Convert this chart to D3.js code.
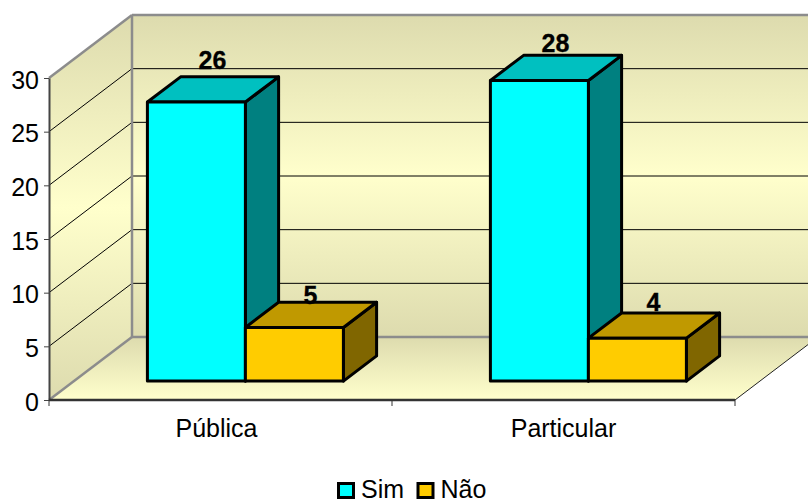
<!DOCTYPE html>
<html>
<head>
<meta charset="utf-8">
<script src="https://d3js.org/d3.v7.min.js"></script>
<style>
    html, body { margin: 0; padding: 0; background: #fff; }
    svg { display: block; }
    text { font-family: "Liberation Sans", Arial, sans-serif; fill: #000; }
</style>
</head>
<body>
<div id="chart"></div>
<script>
const categories = ['Pública', 'Particular'];
const seriesNames = ['Sim', 'Não'];
const simValues = [26, 28];
const naoValues = [5, 4];
const yTicks = [0, 5, 10, 15, 20, 25, 30];

const width = 808, height = 501;

// front plane of the box and how far the depth goes back
const x0 = 49, x1 = 735, yBottom = 400, yTop = 78;
const depthX = 83, depthY = -63;
const barDepth = 0.4, barStart = 0.3;

const colors = {
    Sim: { front: '#00ffff', top: '#00c0c0', side: '#008080' },
    'Não': { front: '#ffcc00', top: '#c09900', side: '#806600' }
};

const x = d3.scaleBand().domain(categories).range([x0, x1]);
const y = d3.scaleLinear().domain([0, 30]).range([yBottom, yTop]);
const series = d3.scaleBand().domain(seriesNames).range([0, 196]);

// move a point on the front plane back by d (0 to 1)
const back = (px, py, d) => [px + depthX * d, py + depthY * d];
const poly = pts => 'M' + pts.map(p => p.join(',')).join('L') + 'Z';

const svg = d3.select('#chart').append('svg')
    .attr('width', width).attr('height', height);

const defs = svg.append('defs');

function vGradient(id, stops) {
    const g = defs.append('linearGradient').attr('id', id)
        .attr('x1', 0).attr('y1', 0).attr('x2', 0).attr('y2', 1);
    stops.forEach(s => g.append('stop').attr('offset', s[0]).attr('stop-color', s[1]));
}
vGradient('wall', [[0, '#dddbae'], [0.5, '#ffffcc'], [1, '#dddbae']]);
vGradient('floor', [[0, '#dddbae'], [1, '#ffffcc']]);

// paredes e chão
svg.append('path')
    .attr('d', poly([back(x0, yTop, 1), back(x1, yTop, 1), back(x1, yBottom, 1), back(x0, yBottom, 1)]))
    .attr('fill', 'url(#wall)');
svg.append('path')
    .attr('d', poly([[x0, yTop], back(x0, yTop, 1), back(x0, yBottom, 1), [x0, yBottom]]))
    .attr('fill', 'url(#wall)');
svg.append('path')
    .attr('d', poly([[x0, yBottom], [x1, yBottom], back(x1, yBottom, 1), back(x0, yBottom, 1)]))
    .attr('fill', 'url(#floor)');

// grades
yTicks.filter(t => t > 0 && t < 30).forEach(t => {
    const b = back(x0, y(t), 1);
    svg.append('path')
        .attr('d', `M${x0},${y(t)}L${b[0]},${b[1]}L${b[0] + x1 - x0},${b[1]}`)
        .attr('fill', 'none').attr('stroke', '#000').attr('stroke-width', 1);
});

// bordas da caixa
const edge = (a, b, color, w) => svg.append('line')
    .attr('x1', a[0]).attr('y1', a[1]).attr('x2', b[0]).attr('y2', b[1])
    .attr('stroke', color).attr('stroke-width', w);

edge(back(x0, yTop, 1), back(x1, yTop, 1), '#8c8c8c', 2.5);
edge(back(x0, yTop, 1), back(x0, yBottom, 1), '#8c8c8c', 2.5);
edge(back(x0, yBottom, 1), back(x1, yBottom, 1), '#8c8c8c', 2.5);
edge([x0, yTop], back(x0, yTop, 1), '#8c8c8c', 2.5);
edge([x0, yBottom], back(x0, yBottom, 1), '#8c8c8c', 2.5);
edge([x1, yBottom], back(x1, yBottom, 1), '#222', 1);

// barras
const bars = svg.append('g')
    .attr('stroke', '#000').attr('stroke-width', 3).attr('stroke-linejoin', 'round');

function drawBar(cat, name, value) {
    const left = x(cat) + (x.bandwidth() - series.range()[1]) / 2 + series(name);
    const w = series.bandwidth();
    const [fx, fTop] = back(left, y(value), barStart);
    const fBottom = back(left, y(0), barStart)[1];
    const dx = depthX * barDepth, dy = depthY * barDepth;
    const c = colors[name];

    bars.append('path').attr('fill', c.side)
        .attr('d', poly([[fx + w, fTop], [fx + w + dx, fTop + dy], [fx + w + dx, fBottom + dy], [fx + w, fBottom]]));
    bars.append('path').attr('fill', c.top)
        .attr('d', poly([[fx, fTop], [fx + dx, fTop + dy], [fx + w + dx, fTop + dy], [fx + w, fTop]]));
    bars.append('rect').attr('fill', c.front)
        .attr('x', fx).attr('y', fTop).attr('width', w).attr('height', fBottom - fTop);
}

categories.forEach((cat, i) => {
    drawBar(cat, 'Sim', simValues[i]);
    drawBar(cat, 'Não', naoValues[i]);
});

// rótulos
const labelLift = { Sim: [8, 3], 'Não': [-2, 2] };

categories.forEach((cat, i) => {
    [['Sim', simValues[i]], ['Não', naoValues[i]]].forEach(([name, value]) => {
        const left = x(cat) + (x.bandwidth() - series.range()[1]) / 2 + series(name);
        const p = back(left + series.bandwidth() / 2, y(value), barStart + barDepth / 2);
        svg.append('text')
            .attr('x', p[0] - 0.5)
            .attr('y', back(0, y(value), barStart + barDepth)[1] - labelLift[name][i])
            .attr('text-anchor', 'middle')
            .attr('font-size', '25px').attr('font-weight', 'bold')
            .attr('stroke', '#000').attr('stroke-width', 0.3)
            .text(value);
    });
});

// eixos
const yAxis = svg.append('g')
    .attr('transform', `translate(${x0},0)`)
    .call(d3.axisLeft(y).tickValues(yTicks).tickSize(5).tickPadding(5).tickSizeOuter(0));
yAxis.select('.domain').attr('stroke', '#444').attr('stroke-width', 2);
yAxis.selectAll('.tick line').attr('stroke', '#444').attr('stroke-width', 1);
yAxis.selectAll('text').attr('font-size', '25px')
    .attr('font-family', '"Liberation Sans", Arial, sans-serif').attr('dy', '0.4em');

const xLabelShift = [-4, 0];
const xAxis = svg.append('g')
    .attr('transform', `translate(0,${yBottom})`)
    .call(d3.axisBottom(x).tickSize(0).tickPadding(19).tickSizeOuter(0));
xAxis.select('.domain').remove();
xAxis.selectAll('text').attr('font-size', '25px')
    .attr('font-family', '"Liberation Sans", Arial, sans-serif')
    .attr('dx', (d, i) => xLabelShift[i]);

edge([x0, yBottom], [x1, yBottom], '#333', 2.5);
categories.concat(null).forEach(cat => {
    const tx = cat ? x(cat) : x1;
    edge([tx, yBottom], [tx, yBottom + 6], '#333', 1);
});

// legenda
const legendX = d3.scaleOrdinal().domain(seriesNames).range([338.5, 418]);
seriesNames.forEach(name => {
    svg.append('rect')
        .attr('x', legendX(name)).attr('y', 483.5)
        .attr('width', 15).attr('height', 14)
        .attr('fill', colors[name].front)
        .attr('stroke', '#000').attr('stroke-width', 3);
    svg.append('text')
        .attr('x', legendX(name) + 22.5).attr('y', 498)
        .attr('font-size', '25px')
        .text(name);
});
</script>
</body>
</html>
